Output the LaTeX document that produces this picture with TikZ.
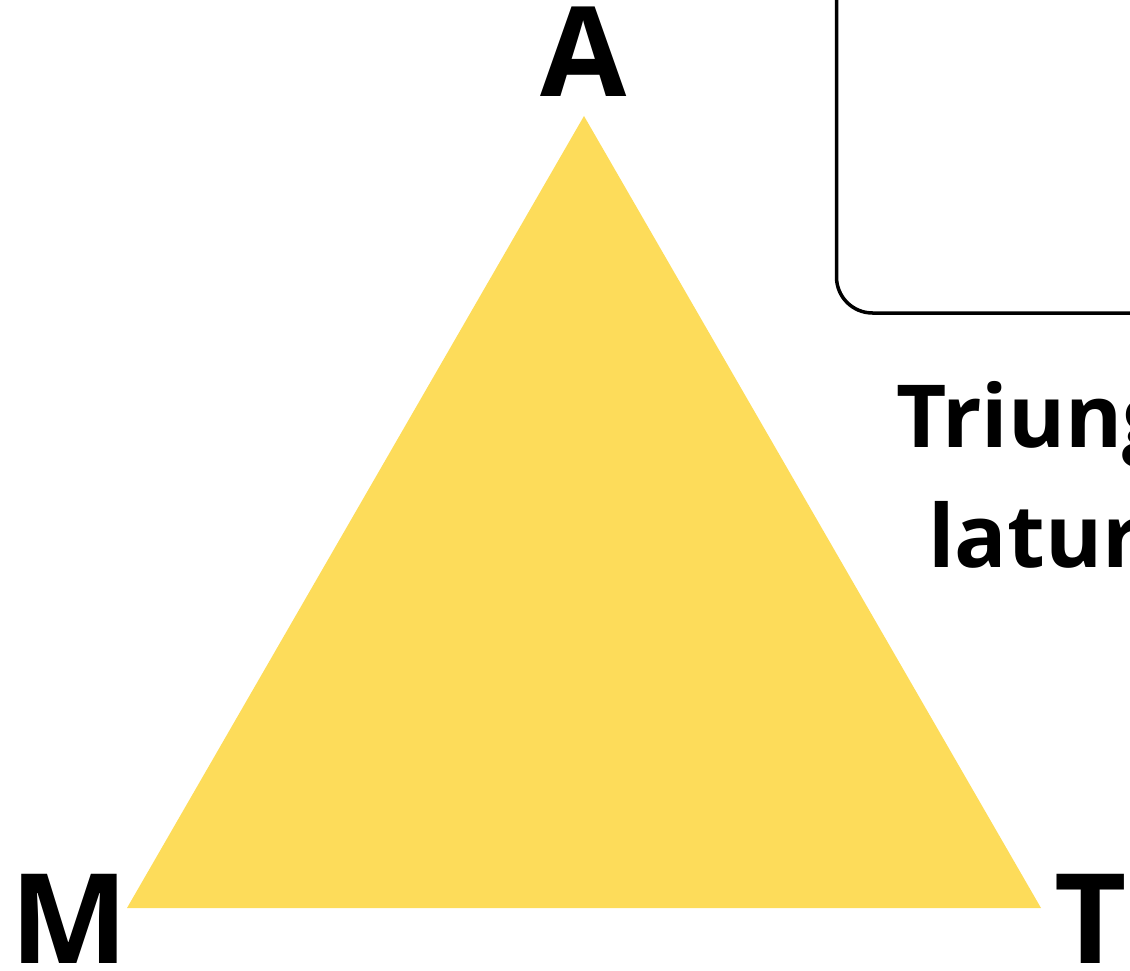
\documentclass[tikz,border=0pt]{standalone}
\usepackage{fontspec}
\setmainfont{Open Sans}[BoldFont={* Bold}]
\definecolor{triyellow}{RGB}{253,220,90}
\begin{document}
\begin{tikzpicture}[x=1pt,y=-1pt,
  vlabel/.style={font=\fontsize{125}{125}\selectfont\bfseries, inner sep=0pt, anchor=base},
  title/.style={font=\fontsize{87}{104}\selectfont\bfseries, inner sep=0pt, anchor=base west}]
\useasboundingbox (0,0) rectangle (1130,971);
\begin{scope}
\clip (0,0) rectangle (1130,971);
\coordinate (pa) at (584,116);
\coordinate (pm) at (127,908);
\coordinate (pt) at (1041,908);
\fill[triyellow] (pa) -- (pm) -- (pt) -- cycle;
\draw[line width=3.5pt, rounded corners=36pt] (836.5,-60) -- (836.5,313) -- (1200,313);
\node[vlabel] (A) at (584,97) {A};
\node[vlabel] (M) at (69,963) {M};
\node[vlabel] (T) at (1091,963) {T};
\node[title] (t1) at (896,447) {Triunghiul};
\node[title] (t2) at (928,567) {laturilor};
\end{scope}
\end{tikzpicture}
\end{document}
